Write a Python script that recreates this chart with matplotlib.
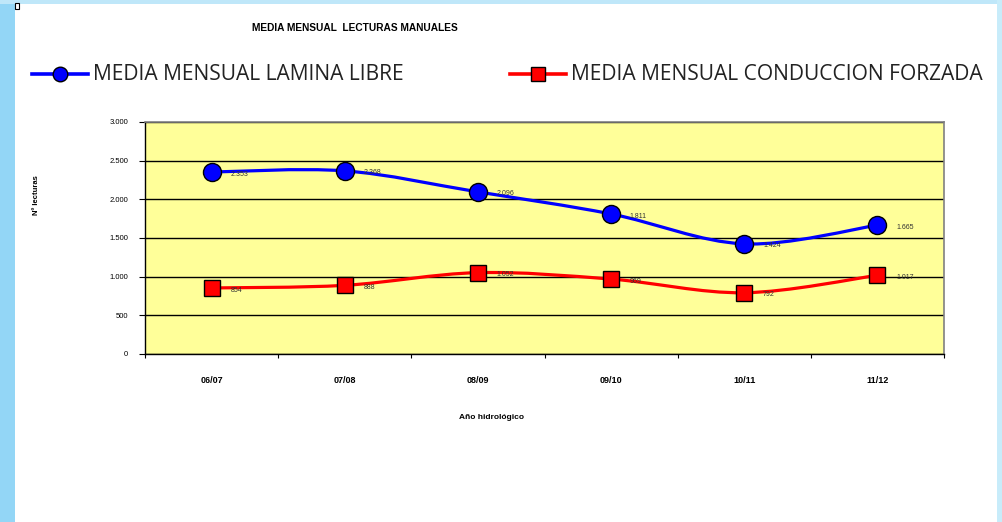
import matplotlib
matplotlib.use("Agg")
from matplotlib import pyplot as plt
from matplotlib.path import Path
from matplotlib.patches import PathPatch, Rectangle
from matplotlib.lines import Line2D

years = ["06/07", "07/08", "08/09", "09/10", "10/11", "11/12"]
lamina_libre = [2353, 2368, 2096, 1811, 1424, 1665]
conduccion_forzada = [854, 888, 1052, 969, 792, 1017]
y_ticks = [0, 500, 1000, 1500, 2000, 2500, 3000]


def fmt(v):
    return "{:,}".format(v).replace(",", ".")


def smooth_path(xs, ys):
    # bezier segments through the points, like Excel's smoothed line
    pts = list(zip(xs, ys))
    verts = [pts[0]]
    codes = [Path.MOVETO]
    n = len(pts)
    for i in range(n - 1):
        p0 = pts[i - 1] if i > 0 else pts[i]
        p1 = pts[i]
        p2 = pts[i + 1]
        p3 = pts[i + 2] if i + 2 < n else pts[i + 1]
        c1 = (p1[0] + (p2[0] - p0[0]) / 6, p1[1] + (p2[1] - p0[1]) / 6)
        c2 = (p2[0] - (p3[0] - p1[0]) / 6, p2[1] - (p3[1] - p1[1]) / 6)
        verts += [c1, c2, p2]
        codes += [Path.CURVE4] * 3
    return Path(verts, codes)


fig = plt.figure(figsize=(10.02, 5.22), dpi=100)
fig.patch.set_facecolor("white")

# light blue frame on the left, top and right
fig.patches.append(Rectangle((0, 0), 15 / 1002, 1, transform=fig.transFigure,
                             facecolor="#93d6f6", edgecolor="none", zorder=0))
fig.patches.append(Rectangle((0, 1 - 4 / 522), 1, 4 / 522, transform=fig.transFigure,
                             facecolor="#bfe7f9", edgecolor="none", zorder=0))
fig.patches.append(Rectangle((997 / 1002, 0), 5 / 1002, 1, transform=fig.transFigure,
                             facecolor="#c8ecfa", edgecolor="none", zorder=0))
fig.patches.append(Rectangle((15 / 1002, 1 - 9 / 522), 4 / 1002, 6 / 522, transform=fig.transFigure,
                             facecolor="white", edgecolor="black", linewidth=0.8, zorder=1))

ax = fig.add_axes([145 / 1002, 168 / 522, 799 / 1002, 232 / 522])
ax.set_facecolor("#ffff99")

x = list(range(len(years)))
series = [
    (lamina_libre, "#0000ff", "o"),
    (conduccion_forzada, "#ff0000", "s"),
]
for vals, color, marker in series:
    ax.add_patch(PathPatch(smooth_path(x, vals), facecolor="none", edgecolor=color,
                           linewidth=2.3, zorder=3))
    ax.plot(x, vals, linestyle="none", marker=marker, markersize=13 if marker == "o" else 12,
            markerfacecolor=color, markeredgecolor="black", markeredgewidth=1.0, zorder=4)
    for xi, v in zip(x, vals):
        ax.annotate(fmt(v), (xi, v), xytext=(13.5, -1.5), textcoords="offset points",
                    ha="left", va="center", fontsize=5, color="#333333",
                    family="Liberation Sans", zorder=5)

ax.set_xlim(-0.5, len(years) - 0.5)
ax.set_ylim(0, 3000)
ax.set_yticks(y_ticks)
ax.set_yticklabels([fmt(t) for t in y_ticks], fontsize=5.5, family="Liberation Sans")
ax.set_xticks(x)
ax.set_xticklabels(years, fontsize=6.5, fontweight="bold", family="Liberation Sans")
ax.set_xticks([i - 0.5 for i in range(len(years) + 1)], minor=True)
ax.tick_params(axis="x", which="major", length=0, pad=16)
ax.tick_params(axis="x", which="minor", length=3, width=0.8, direction="out")
ax.tick_params(axis="y", length=4, width=0.8, direction="out", pad=8)
ax.grid(axis="y", color="black", linewidth=1.0)
ax.set_axisbelow(True)
for side in ["top", "right"]:
    ax.spines[side].set_color("#808080")
    ax.spines[side].set_linewidth(1.2)
for side in ["left", "bottom"]:
    ax.spines[side].set_color("black")
    ax.spines[side].set_linewidth(1.0)

ax.set_ylabel("Nº lecturas", fontsize=5.5, fontweight="bold", family="Liberation Sans")
ax.yaxis.set_label_coords(-0.132, 0.685)
ax.set_xlabel("Año hidrológico", fontsize=6, fontweight="bold", family="Liberation Sans")
ax.xaxis.set_label_coords(0.434, -0.26)

fig.text(355 / 1002, 1 - 28 / 522, "MEDIA MENSUAL  LECTURAS MANUALES", ha="center", va="center",
         fontsize=7.3, fontweight="bold", family="Liberation Sans")

# legend drawn across the top
legend_items = [
    ("MEDIA MENSUAL LAMINA LIBRE", "#0000ff", "o", 32),
    ("MEDIA MENSUAL CONDUCCION FORZADA", "#ff0000", "s", 510),
]
ly = 1 - 74 / 522
for label, color, marker, x0 in legend_items:
    fig.add_artist(Line2D([x0 / 1002, (x0 + 56) / 1002], [ly, ly], transform=fig.transFigure,
                          color=color, linewidth=2.6))
    fig.add_artist(Line2D([(x0 + 28) / 1002], [ly], transform=fig.transFigure, marker=marker,
                          markersize=10.5 if marker == "o" else 10, markerfacecolor=color,
                          markeredgecolor="black", markeredgewidth=1.0, linestyle="none"))
    fig.text((x0 + 61) / 1002, ly, label, ha="left", va="center", fontsize=15.1,
             family="Open Sans", color="#222222")

fig.savefig("out.png", dpi=100)
